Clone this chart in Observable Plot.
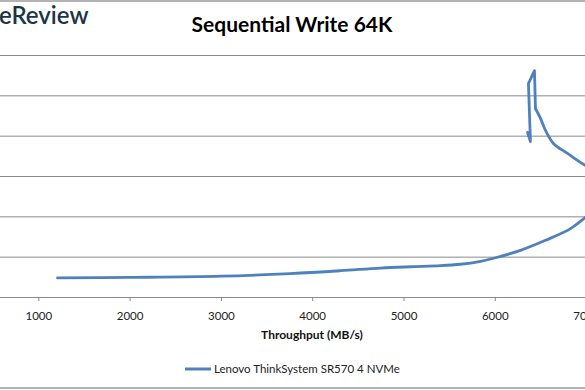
<!DOCTYPE html>
<html>
<head>
<meta charset="utf-8">
<script src="https://cdn.jsdelivr.net/npm/d3@7"></script>
<script src="https://cdn.jsdelivr.net/npm/@observablehq/plot@0.6"></script>
<style>
  html, body { margin: 0; padding: 0; background: #fff; overflow: hidden; }
  #chart svg { display: block; }
</style>
</head>
<body>
<div id="chart"></div>
<script>
// Data
const title = "Sequential Write 64K";
const xLabel = "Throughput (MB/s)";
const seriesName = "Lenovo ThinkSystem SR570 4 NVMe";
const logoText = "eReview";
const xTicks = [1000, 2000, 3000, 4000, 5000, 6000, 7000];
const yGrid = [0.5, 1.0, 1.5, 2.0, 2.5, 3.0];
// throughput (MB/s) and average latency (ms), in test order
const throughput = [1205, 2004, 3001, 3757, 4304, 4742, 5071, 5400, 5619, 5838, 6003, 6276, 6550, 6824, 6988, 7150, 7300, 7330, 7250, 7150, 6988, 6791, 6637, 6550, 6495, 6440, 6429, 6363, 6385, 6353];
const latency    = [0.243, 0.249, 0.264, 0.297, 0.332, 0.365, 0.381, 0.394, 0.412, 0.449, 0.493, 0.585, 0.709, 0.854, 0.994, 1.14, 1.32, 1.40, 1.50, 1.56, 1.637, 1.786, 1.910, 2.071, 2.220, 2.343, 2.813, 2.652, 1.934, 2.046];

const rows = throughput.map((t, i) => ({x: t, y: latency[i], i}));
const smoothRows = rows.slice(0, 26);   // up to the start of the jagged tail
const tailRows = rows.slice(25);        // jagged tail at the end of the run
const lineColor = "#4f81bd";
const gridColor = "#8a8a8a";
const font = "Lato, 'Open Sans', sans-serif";

const W = 585, H = 390;
const plot = Plot.plot({
  width: W,
  height: H,
  marginLeft: 0,
  marginRight: 0,
  marginTop: 55,
  marginBottom: 93,
  style: {fontFamily: font, fontSize: "11.5px", color: "#222", background: "white", overflow: "hidden"},
  x: {domain: [580.5, 6988], label: null},
  y: {domain: [0, 3], axis: null},
  marks: [
    Plot.ruleY(yGrid, {stroke: gridColor, strokeWidth: 1}),
    Plot.ruleY([0], {stroke: gridColor, strokeWidth: 1}),
    Plot.axisX({ticks: xTicks, tickFormat: d => String(d), tickSize: 4, tickPadding: 10, stroke: gridColor, fill: "#222", label: null}),
    Plot.line(smoothRows, {x: "x", y: "y", stroke: lineColor, strokeWidth: 2.8, curve: "catmull-rom", clip: true}),
    Plot.line(tailRows, {x: "x", y: "y", stroke: lineColor, strokeWidth: 2.8, curve: "linear", strokeLinejoin: "round", clip: true})
  ]
});
document.getElementById("chart").appendChild(plot);

const svg = d3.select(plot);
// border lines
svg.append("line").attr("x1", 0).attr("x2", W).attr("y1", 1).attr("y2", 1).attr("stroke", "#9a9a9a").attr("stroke-width", 1.5);
svg.append("line").attr("x1", 0).attr("x2", W).attr("y1", 388).attr("y2", 388).attr("stroke", "#9a9a9a").attr("stroke-width", 1.5);
// logo
svg.append("text").attr("x", -1).attr("y", 24).attr("text-anchor", "start").attr("fill", "#1c3544")
  .style("font-family", font).style("font-size", "24px").style("font-weight", "600").text(logoText);
// title
svg.append("text").attr("x", 292).attr("y", 32).attr("text-anchor", "middle").attr("fill", "#000")
  .style("font-family", font).style("font-size", "21px").style("font-weight", "bold").text(title);
// x axis label
svg.append("text").attr("x", 312).attr("y", 339).attr("text-anchor", "middle").attr("fill", "#111")
  .style("font-family", font).style("font-size", "12px").style("font-weight", "bold").text(xLabel);
// legend
svg.append("line").attr("x1", 185).attr("x2", 211).attr("y1", 369).attr("y2", 369).attr("stroke", lineColor).attr("stroke-width", 3);
svg.append("text").attr("x", 214).attr("y", 373).attr("text-anchor", "start").attr("fill", "#222")
  .style("font-family", font).style("font-size", "11.5px").text(seriesName);
</script>
</body>
</html>
